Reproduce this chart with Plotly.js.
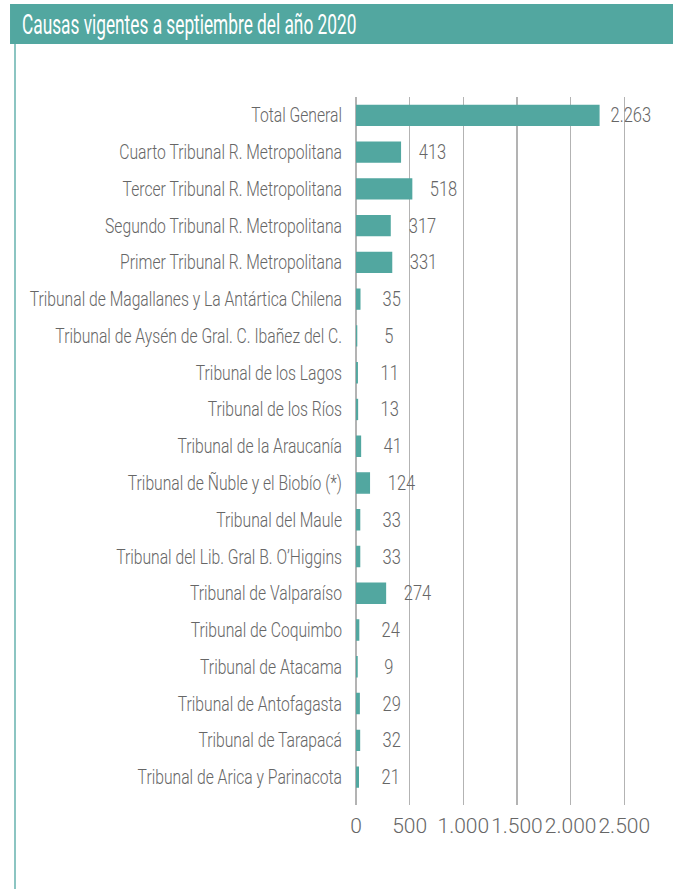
<!DOCTYPE html>
<html>
<head>
<meta charset="utf-8">
<script src="https://cdn.plot.ly/plotly-3.0.1.min.js"></script>
<style>html,body{margin:0;padding:0;background:#fff;}#chart{width:673px;height:889px;}</style>
</head>
<body>
<div id="chart"></div>
<script>
// Data, listed top to bottom as in the chart
const categories = [
  "Total General",
  "Cuarto Tribunal R. Metropolitana",
  "Tercer Tribunal R. Metropolitana",
  "Segundo Tribunal R. Metropolitana",
  "Primer Tribunal R. Metropolitana",
  "Tribunal de Magallanes y La Antártica Chilena",
  "Tribunal de Aysén de Gral. C. Ibañez del C.",
  "Tribunal de los Lagos",
  "Tribunal de los Ríos",
  "Tribunal de la Araucanía",
  "Tribunal de Ñuble y el Biobío (*)",
  "Tribunal del Maule",
  "Tribunal del Lib. Gral B. O’Higgins",
  "Tribunal de Valparaíso",
  "Tribunal de Coquimbo",
  "Tribunal de Atacama",
  "Tribunal de Antofagasta",
  "Tribunal de Tarapacá",
  "Tribunal de Arica y Parinacota"
];
const causas = [2263, 413, 518, 317, 331, 35, 5, 11, 13, 41, 124, 33, 33, 274, 24, 9, 29, 32, 21];
const tickValues = [0, 500, 1000, 1500, 2000, 2500];
const titleText = "Causas vigentes a septiembre del año 2020";

const FONT = "Roboto, 'Liberation Sans', sans-serif";
const TEAL = "#52a7a0";
const GREY = "#666666";
const CONDENSE = 0.785;       // horizontal squeeze to mimic a condensed typeface
const CONDENSE_TITLE = 0.64;

function fmt(n) {
  return String(n).replace(/\B(?=(\d{3})+(?!\d))/g, ".");
}

// Bottom-to-top order for plotting
const yCats = categories.slice().reverse();
const xVals = causas.slice().reverse();

const trace = {
  type: "bar",
  orientation: "h",
  y: yCats,
  x: xVals,
  marker: {color: TEAL, line: {color: TEAL, width: 1.5}},
  hoverinfo: "none",
  cliponaxis: false
};

const annotations = yCats.map((c, i) => ({
  x: xVals[i], y: c, xref: "x", yref: "y",
  text: fmt(xVals[i]), showarrow: false,
  xanchor: "center", yanchor: "middle", xshift: 32,
  font: {family: FONT, size: 21, color: GREY, weight: 300}
}));

annotations.push({
  xref: "paper", yref: "paper", x: -1.2043, y: 1.1017,
  xanchor: "left", yanchor: "middle", align: "left",
  text: titleText, showarrow: false,
  font: {family: FONT, size: 27, color: "#ffffff", weight: 400}
});

const layout = {
  width: 673, height: 889,
  margin: {l: 356, r: 38, t: 97, b: 84},
  paper_bgcolor: "#ffffff",
  plot_bgcolor: "#ffffff",
  showlegend: false,
  bargap: 0.46,
  separators: ",.",
  font: {family: FONT, color: GREY},
  xaxis: {
    range: [0, 2600],
    tickvals: tickValues,
    ticktext: tickValues.map(fmt),
    tickangle: 0,
    showgrid: true, gridcolor: "#b3b3b3", gridwidth: 1.5,
    zeroline: true, zerolinecolor: "#b3b3b3", zerolinewidth: 1.5,
    showline: false, ticks: "",
    ticklabelstandoff: 6,
    tickfont: {family: FONT, size: 21, color: GREY, weight: 300},
    fixedrange: true
  },
  yaxis: {
    type: "category",
    categoryorder: "array", categoryarray: yCats,
    range: [-0.76, 18.5],
    showgrid: false, zeroline: false, showline: false,
    ticks: "", ticklabelstandoff: 13,
    tickfont: {family: FONT, size: 20, color: GREY, weight: 300},
    fixedrange: true
  },
  shapes: [
    {type: "rect", xref: "paper", yref: "paper",
     x0: -1.2401, x1: 1.3, y0: 1.0749, y1: 1.1314,
     fillcolor: TEAL, line: {width: 0}, layer: "below"},
    {type: "line", xref: "paper", yref: "paper",
     x0: -1.2222, x1: -1.2222, y0: -0.2, y1: 1.0749,
     line: {color: "#8cc5c2", width: 2}}
  ],
  annotations: annotations
};

function squeeze(t, s) {
  const ax = parseFloat(t.getAttribute("x")) || 0;
  const prev = t.getAttribute("transform") || "";
  t.setAttribute("transform",
    (prev + " translate(" + ax + ",0) scale(" + s + ",1) translate(" + (-ax) + ",0)").trim());
}

function condenseText(gd) {
  gd.querySelectorAll(".ytick text").forEach(t => squeeze(t, CONDENSE));
  gd.querySelectorAll("text.annotation-text").forEach(t => {
    const isTitle = t.textContent === titleText;
    squeeze(t, isTitle ? CONDENSE_TITLE : CONDENSE);
  });
}

const gd = document.getElementById("chart");
Plotly.newPlot(gd, [trace], layout, {displayModeBar: false, staticPlot: true})
  .then(() => condenseText(gd));
</script>
</body>
</html>
